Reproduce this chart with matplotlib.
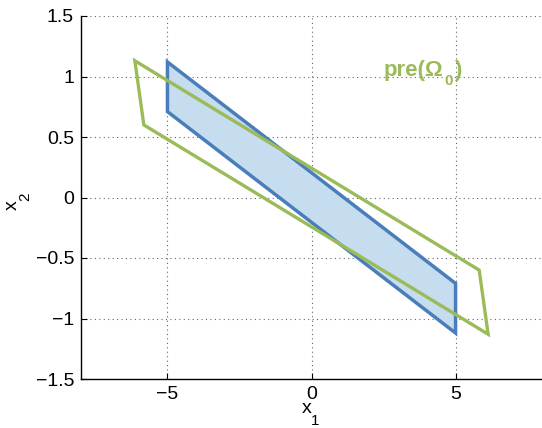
import matplotlib
matplotlib.use("Agg")
import matplotlib.pyplot as plt
from matplotlib.patches import Polygon
from matplotlib.transforms import IdentityTransform

plt.rcParams['font.family'] = ['Liberation Sans', 'DejaVu Sans']

# Safe set Omega_0 and its predecessor set
omega_x = [-5.0, 5.0, 5.0, -5.0]
omega_y = [1.12, -0.71, -1.12, 0.71]
pre_x = [-6.13, 5.82, 6.13, -5.82]
pre_y = [1.13, -0.60, -1.13, 0.60]

xticks = [-5, 0, 5]
yticks = [-1.5, -1, -0.5, 0, 0.5, 1, 1.5]
ytick_labels = ['\u22121.5', '\u22121', '\u22120.5', '0', '0.5', '1', '1.5']
xtick_labels = ['\u22125', '0', '5']

blue = '#4a7ebb'
blue_fill = '#c6dcef'
green = '#9bbb59'

W, H = 542, 428
fig = plt.figure(figsize=(W / 100, H / 100), dpi=100)
ax = fig.add_axes([81 / W, 49 / H, 461 / W, 363 / H])

ax.add_patch(Polygon(list(zip(omega_x, omega_y)), closed=True,
                     facecolor=blue_fill, edgecolor=blue, linewidth=2.5, zorder=3))
ax.add_patch(Polygon(list(zip(pre_x, pre_y)), closed=True,
                     facecolor='none', edgecolor=green, linewidth=2.4, zorder=4))

ax.set_xlim(-8, 8)
ax.set_ylim(-1.5, 1.5)
ax.set_xticks(xticks)
ax.set_xticklabels(xtick_labels)
ax.set_yticks(yticks)
ax.set_yticklabels(ytick_labels)
ax.tick_params(direction='in', length=4, labelsize=14, width=0.8, pad=5)
ax.grid(True, linestyle=(0, (1, 3)), color='#666666', linewidth=0.8)
ax.set_axisbelow(True)
for side in ('top', 'right'):
    ax.spines[side].set_visible(False)
for side in ('left', 'bottom'):
    ax.spines[side].set_linewidth(1.0)

renderer = fig.canvas.get_renderer()


def chain_text(x, y, pieces, rotated=False, **kw):
    """Lay out text pieces one after another along the baseline (display px).
    Each piece is (string, fontsize, drop, shift); drop lowers the piece like a
    subscript, shift nudges it along the baseline."""
    for s, size, drop, shift in pieces:
        if rotated:
            y += shift
            t = fig.text(x + drop, y, s, fontsize=size, rotation=90,
                         rotation_mode='anchor', ha='left', va='baseline',
                         transform=IdentityTransform(), **kw)
            y += t.get_window_extent(renderer).height
        else:
            x += shift
            t = fig.text(x, y - drop, s, fontsize=size, ha='left', va='baseline',
                         transform=IdentityTransform(), **kw)
            x += t.get_window_extent(renderer).width


# Region label, anchored in data coordinates
lx, ly = ax.transData.transform((2.51, 1.004))
chain_text(lx, ly, [('pre(\u03a9', 16, 0, 0), ('0', 11, 9, 1), (')', 16, 0, 1)],
           color=green, fontweight='bold')

# Axis labels with dropped subscripts
chain_text(302, H - 413, [('x', 14, 0, 0), ('1', 11, 12, -1)])
chain_text(16.7, H - 209.5, [('x', 14, 0, 0), ('2', 11, 12.6, -1)], rotated=True)

fig.savefig('out.png', dpi=100)
